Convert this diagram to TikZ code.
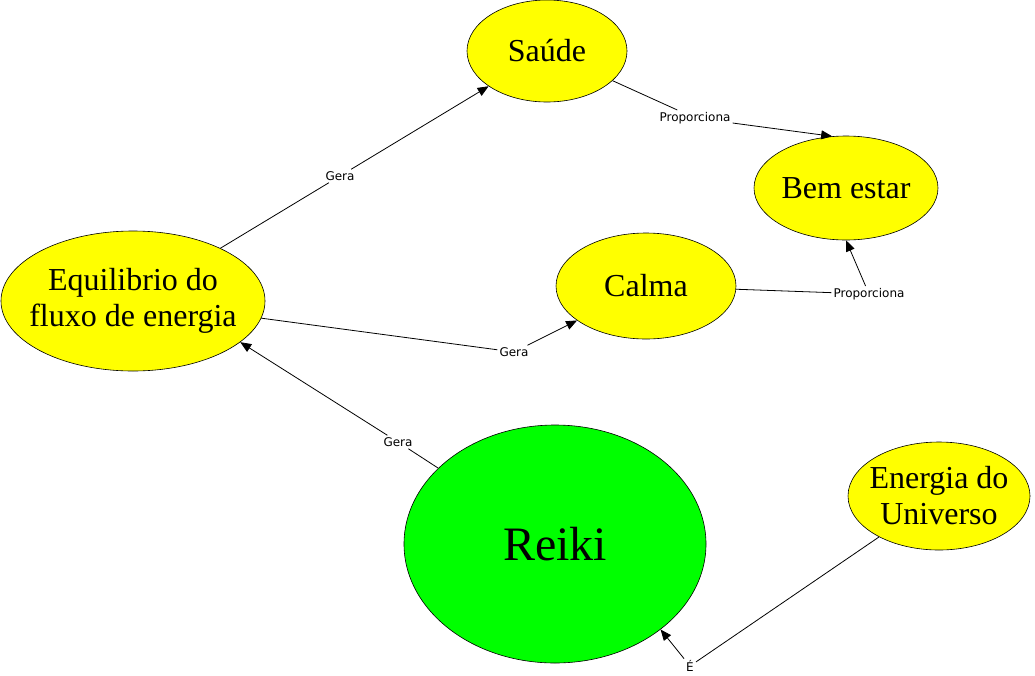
\documentclass[tikz,border=0pt]{standalone}
\usepackage{fontspec}
\setmainfont{Liberation Serif}
\newfontfamily\lblfont{DejaVu Sans}
\usepackage{xcolor}
\usepackage{tikz}
\usetikzlibrary{arrows.meta,positioning,shapes.geometric,calc}
\definecolor{bubyellow}{RGB}{255,255,0}
\definecolor{bubgreen}{RGB}{0,255,0}

\begin{document}
\begin{tikzpicture}[x=1pt, y=-1pt,
  bubble/.style={ellipse, draw, line width=0.6pt, fill=bubyellow, inner sep=0pt},
  txt/.style={align=center, inner sep=0pt, font=\fontsize{32}{36}\selectfont},
  ln/.style={line width=0.8pt},
  ar/.style={ln, -{Triangle[length=11pt, width=9pt]}},
  lbl/.style={font=\lblfont\fontsize{12}{14}\selectfont, inner sep=2pt}
]
\useasboundingbox (0,0) rectangle (1035,675);

% --- concepts -----------------------------------------------------------
\node[bubble, minimum width=160, minimum height=102,
      label={[txt]center:Saúde}] (saude) at (547,51) {};
\node[bubble, minimum width=184, minimum height=104,
      label={[txt]center:Bem estar}] (bem) at (846,188) {};
\node[bubble, minimum width=180, minimum height=106,
      label={[txt]center:Calma}] (calma) at (646,286) {};
\node[bubble, minimum width=264, minimum height=140,
      label={[txt]center:{Equilibrio do\\fluxo de energia}}] (eq) at (133,301) {};
\node[bubble, fill=bubgreen, minimum width=302, minimum height=238,
      label={[txt, font=\fontsize{48}{52}\selectfont]center:Reiki}] (reiki) at (555,544) {};
\node[bubble, minimum width=182, minimum height=108,
      label={[txt]center:{Energia do\\Universo}}] (univ) at (939,496) {};

% --- link labels ----------------------------------------------------------
\node[lbl] (g1) at (340,176) {Gera};
\node[lbl] (g2) at (514,352) {Gera};
\node[lbl] (g3) at (398,442) {Gera};
\node[lbl] (p1) at (695,118) {Proporciona};
\node[lbl] (p2) at (869,294) {Proporciona};
\node[lbl] (e1) at (690,666) {É};

% --- links ----------------------------------------------------------------
\draw[ln] (eq) -- (g1);
\draw[ar] (g1) -- (saude);
\draw[ln] (eq) -- (g2);
\draw[ar] (g2) -- (calma);
\draw[ln] (reiki) -- (g3);
\draw[ar] (g3) -- (eq.-21);
\draw[ln] (saude) -- (p1);
\draw[ar] (p1) -- (bem.105);
\draw[ln] (calma) -- (p2);
\draw[ar] (p2) -- (bem.south);
\draw[ln] (univ) -- (e1);
\draw[ar] (e1) -- (reiki.-39);
\end{tikzpicture}
\end{document}
